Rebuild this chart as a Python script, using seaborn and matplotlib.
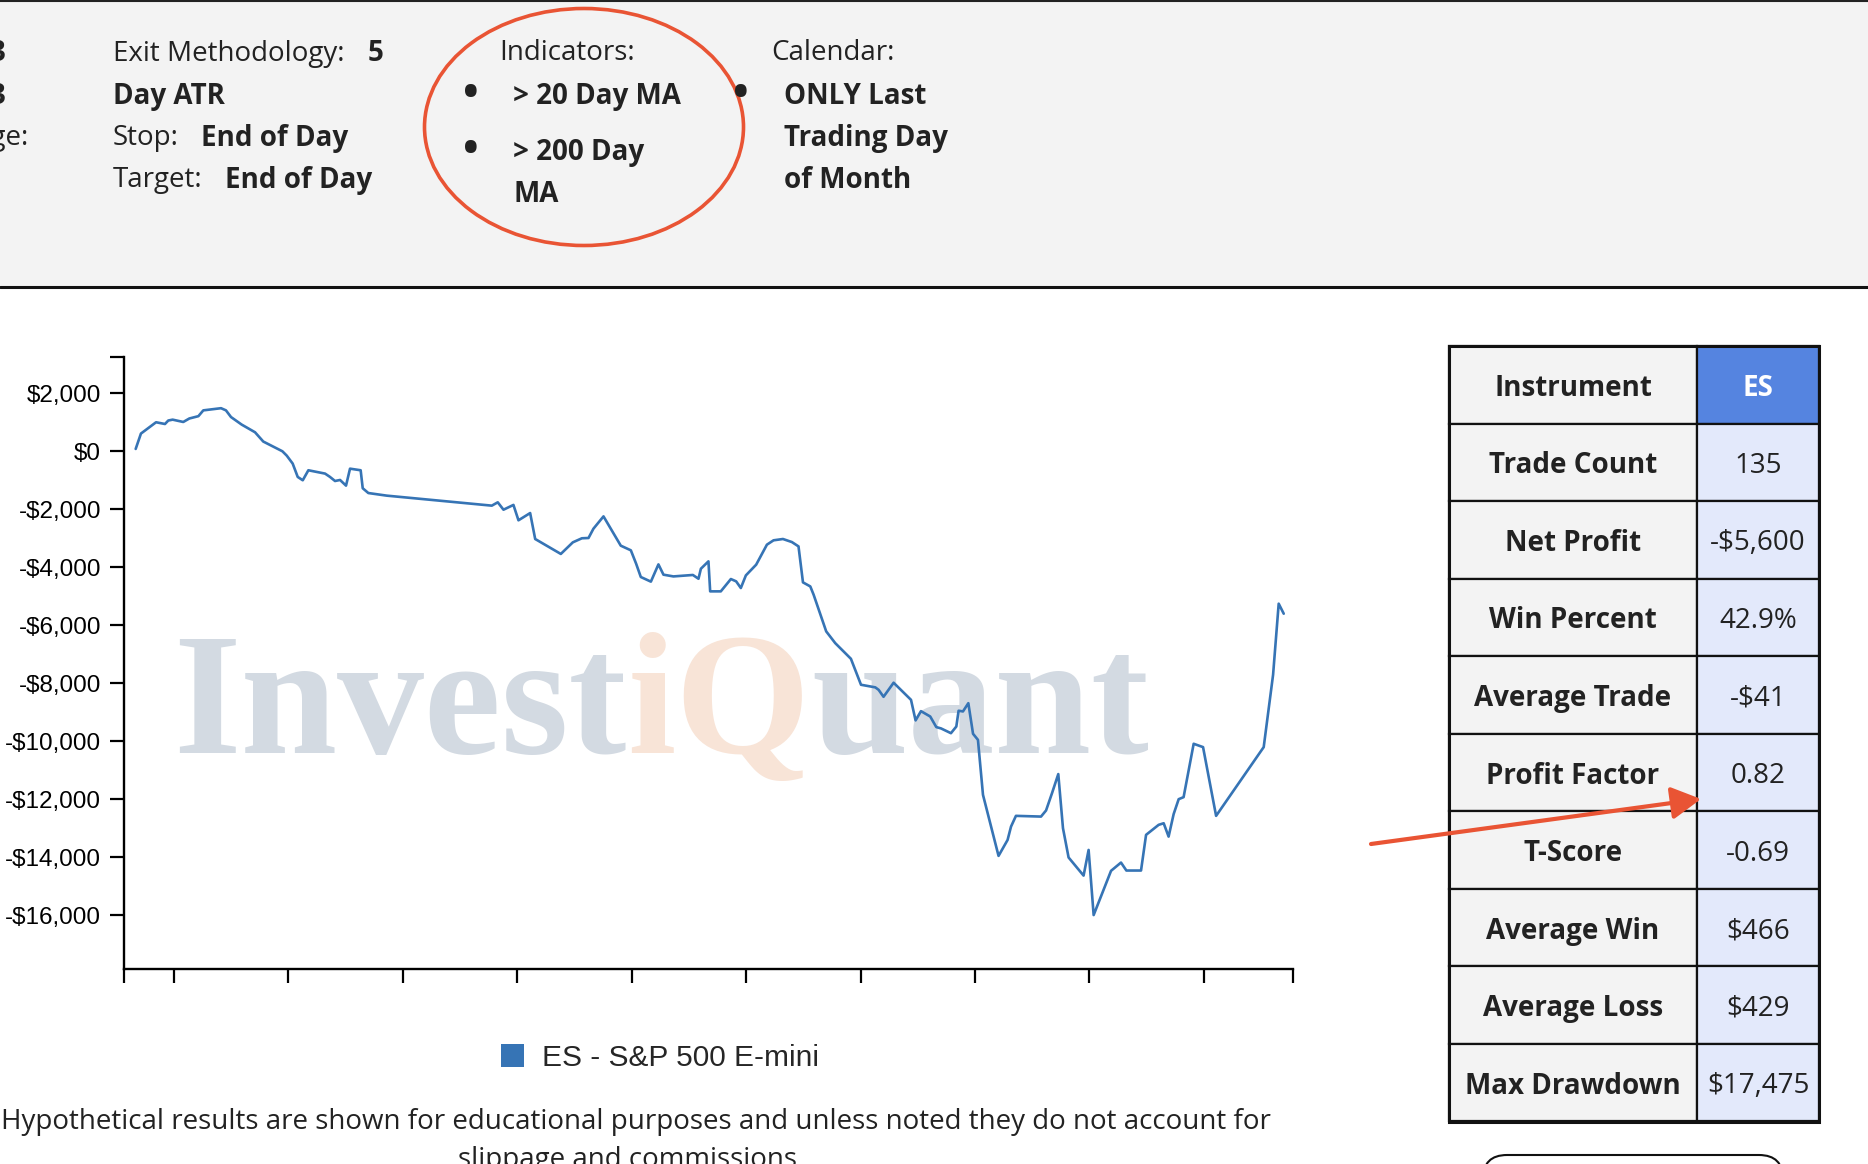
import matplotlib
matplotlib.use("Agg")
import matplotlib.pyplot as plt
import seaborn as sns
from matplotlib.patches import Rectangle, Ellipse, FancyBboxPatch, Patch
from matplotlib.ticker import FuncFormatter

# equity curve (x = decimal year, y = cumulative P&L in $)
years = [
    2009.666, 2009.712, 2009.844, 2009.922, 2009.951, 2009.989, 2010.082, 2010.135, 2010.214, 2010.257,
    2010.412, 2010.455, 2010.499, 2010.592, 2010.709, 2010.781, 2010.948, 2010.986, 2011.038, 2011.082,
    2011.126, 2011.175, 2011.321, 2011.364, 2011.408, 2011.452, 2011.504, 2011.539, 2011.632, 2011.650,
    2011.699, 2011.860, 2012.778, 2012.830, 2012.880, 2012.967, 2013.011, 2013.113, 2013.157, 2013.381,
    2013.486, 2013.565, 2013.623, 2013.666, 2013.754,
    2013.905, 2013.993, 2014.039, 2014.080, 2014.168, 2014.234, 2014.278, 2014.365, 2014.535, 2014.584,
    2014.605, 2014.671, 2014.686, 2014.779, 2014.867, 2014.913, 2014.954, 2014.998,
    2015.088, 2015.182, 2015.240, 2015.322, 2015.400, 2015.458, 2015.497, 2015.561, 2015.590, 2015.700,
    2015.779, 2015.916,
    2016.004, 2016.129, 2016.158, 2016.201, 2016.289, 2016.441, 2016.481, 2016.528, 2016.609, 2016.662,
    2016.703, 2016.790, 2016.837, 2016.857, 2016.895, 2016.942, 2016.983, 2017.026,
    2017.070, 2017.206, 2017.285, 2017.315, 2017.358, 2017.577, 2017.621, 2017.673, 2017.728, 2017.769,
    2017.818, 2017.949, 2017.993,
    2018.037, 2018.189, 2018.276, 2018.323, 2018.451, 2018.495, 2018.605, 2018.649, 2018.692, 2018.736,
    2018.780, 2018.823, 2018.911, 2018.993,
    2019.107, 2019.523, 2019.605, 2019.654, 2019.698,
]
equity = [
    80, 610, 1000, 940, 1060, 1090, 1010, 1130, 1210, 1410,
    1485, 1410, 1180, 920, 655, 335, 0, -150, -425, -885,
    -1000, -655, -770, -885, -1025, -990, -1185, -600, -655, -1275,
    -1440, -1530, -1875, -1760, -2015, -1850, -2380, -2130, -3025, -3540,
    -3140, -3000, -2990, -2670, -2245,
    -3255, -3415, -3875, -4335, -4495, -3900, -4255, -4315, -4265, -4395,
    -4050, -3795, -4830, -4830, -4405, -4485, -4715, -4280,
    -3910, -3220, -3070, -3025, -3130, -3280, -4520, -4660, -4945, -6210,
    -6615, -7155,
    -8050, -8140, -8225, -8465, -7980, -8570, -9280, -8960, -9145, -9510,
    -9555, -9720, -9490, -8945, -8970, -8685, -9740, -9950,
    -11845, -13950, -13400, -12940, -12570, -12595, -12385, -11790, -11130, -12995,
    -14005, -14630, -13745,
    -15990, -14465, -14180, -14455, -14455, -13225, -12880, -12825, -13285, -12510,
    -11995, -11925, -10085, -10200,
    -12570, -10200, -7705, -5255, -5600,
]
year_ticks = list(range(2010, 2020))
y_ticks = list(range(-16000, 2001, 2000))

legend_label = "ES - S&P 500 E-mini"
table_labels = ["Instrument", "Trade Count", "Net Profit", "Win Percent", "Average Trade",
                "Profit Factor", "T-Score", "Average Win", "Average Loss", "Max Drawdown"]
table_values = ["ES", "135", "-$5,600", "42.9%", "-$41", "0.82", "-0.69", "$466", "$429", "$17,475"]

W, H = 1868, 1164
LINE = "#3674b5"
RED = "#e95434"
OS = dict(family="Open Sans", fontsize=20, color="#222222")
OSB = dict(family="Open Sans", fontsize=20, color="#222222", fontweight="bold")
BUL = dict(family="Open Sans", fontsize=30, color="#222222", fontweight="bold", ha="center", va="center")
DY = 3.5  # Open Sans sits a little high with va="center"

sns.set_style("ticks")
plt.rcParams["font.family"] = ["Liberation Sans", "DejaVu Sans"]

fig = plt.figure(figsize=(W / 100, H / 100), dpi=100)
fig.patch.set_facecolor("white")

# background layer in pixel coordinates for the page furniture
bg = fig.add_axes([0, 0, 1, 1], zorder=0)
bg.set_xlim(0, W)
bg.set_ylim(H, 0)
bg.axis("off")

# header band
bg.add_patch(Rectangle((0, 2), W, 285, facecolor="#f3f3f3", edgecolor="none"))
bg.plot([0, W], [1, 1], color="#222222", lw=1.5)
bg.plot([0, W], [287, 287], color="#111111", lw=2.2)

bg.text(6, 50 + DY, "3", ha="right", va="center", **OSB)
bg.text(6, 93 + DY, "3", ha="right", va="center", **OSB)
bg.text(29, 135 + DY, "Range:", ha="right", va="center", **OS)

bg.text(113, 50 + DY, "Exit Methodology:", va="center", **OS)
bg.text(368, 50 + DY, "5", va="center", **OSB)
bg.text(113, 93 + DY, "Day ATR", va="center", **OSB)
bg.text(113, 135 + DY, "Stop:", va="center", **OS)
bg.text(201, 135 + DY, "End of Day", va="center", **OSB)
bg.text(113, 177 + DY, "Target:", va="center", **OS)
bg.text(225, 177 + DY, "End of Day", va="center", **OSB)

bg.text(499, 50 + DY, "Indicators:", va="center", **OS)
bg.text(471, 92 + DY, "\u2022", **BUL)
bg.text(513, 93 + DY, "> 20 Day MA", va="center", **OSB)
bg.text(471, 148 + DY, "\u2022", **BUL)
bg.text(513, 149 + DY, "> 200 Day", va="center", **OSB)
bg.text(513, 191 + DY, "MA", va="center", **OSB)
bg.add_patch(Ellipse((584, 127), 319, 237, facecolor="none", edgecolor=RED, lw=2.6))

bg.text(771, 50 + DY, "Calendar:", va="center", **OS)
bg.text(741, 92 + DY, "\u2022", **BUL)
bg.text(784, 93 + DY, "ONLY Last", va="center", **OSB)
bg.text(784, 135 + DY, "Trading Day", va="center", **OSB)
bg.text(784, 177 + DY, "of Month", va="center", **OSB)

# watermark, built from three coloured pieces
renderer = fig.canvas.get_renderer()
wx = 173
for part, col in [("Invest", "#d3dae2"), ("iQ", "#f8e4d7"), ("uant", "#d3dae2")]:
    t = bg.text(wx, 753, part, family="Liberation Serif", fontweight="bold",
                fontsize=125, color=col, va="baseline")
    wx = t.get_window_extent(renderer).x1 + 1

# stats table
row_h = 77.55
for i, (lab, val) in enumerate(zip(table_labels, table_values)):
    y0 = 346 + i * row_h
    bg.add_patch(Rectangle((1449, y0), 248, row_h, facecolor="#f3f3f3", edgecolor="#111111", lw=1.6))
    bg.add_patch(Rectangle((1697, y0), 122, row_h, facecolor="#5584e0" if i == 0 else "#e3e9fb",
                           edgecolor="#111111", lw=1.6))
    bg.text(1573, y0 + row_h / 2 + DY, lab, ha="center", va="center", **OSB)
    if i == 0:
        bg.text(1758, y0 + row_h / 2 + DY, val, ha="center", va="center",
                family="Open Sans", fontsize=20, fontweight="bold", color="white")
    else:
        bg.text(1758, y0 + row_h / 2 + DY, val, ha="center", va="center", **OS)
bg.add_patch(Rectangle((1449, 346), 370, row_h * 10, facecolor="none", edgecolor="#111111", lw=2.2))

bg.annotate("", xy=(1701, 799), xytext=(1371, 844),
            arrowprops=dict(arrowstyle="-|>,head_length=0.4,head_width=0.22",
                            color=RED, lw=3, mutation_scale=45, shrinkA=0, shrinkB=0))

bg.add_patch(FancyBboxPatch((1483, 1155), 300, 60, boxstyle="round,pad=0,rounding_size=24",
                            facecolor="white", edgecolor="#111111", lw=1.5))

bg.text(636, 1118 + DY, "Hypothetical results are shown for educational purposes and unless noted they do not account for",
        ha="center", va="center", **OS)
bg.text(627, 1156 + DY, "slippage and commissions", ha="center", va="center", **OS)

# equity chart
ax = fig.add_axes([124 / W, 1 - 969 / H, 1169 / W, 612 / H], zorder=2)
ax.patch.set_alpha(0)
sns.lineplot(x=years, y=equity, ax=ax, color=LINE, linewidth=1.9)
ax.set_xlim(2009.564, 2019.779)
ax.set_ylim(-17850, 3250)
ax.set_xticks(year_ticks)
ax.set_xticklabels([])
ax.set_xticks([2009.564, 2019.779], minor=True)
ax.set_yticks(y_ticks)
ax.set_yticks([3250], minor=True)
ax.yaxis.set_major_formatter(FuncFormatter(lambda v, p: f"-${abs(v):,.0f}" if v < 0 else f"${v:,.0f}"))
ax.tick_params(axis="both", which="both", length=10, width=1.6, color="black", direction="out")
ax.tick_params(axis="y", labelsize=17.5, pad=6.5, labelcolor="black")
sns.despine(ax=ax)
for s in ["left", "bottom"]:
    ax.spines[s].set_linewidth(1.7)
    ax.spines[s].set_color("black")
ax.set_xlabel("")
ax.set_ylabel("")

fig.legend(handles=[Patch(facecolor=LINE, edgecolor="none", label=legend_label)],
           loc="center left", bbox_to_anchor=(474 / W, 1 - 1058 / H), frameon=False,
           fontsize=21.5, handlelength=0.78, handleheight=0.78, handletextpad=0.6)

fig.savefig("out.png", dpi=100)
